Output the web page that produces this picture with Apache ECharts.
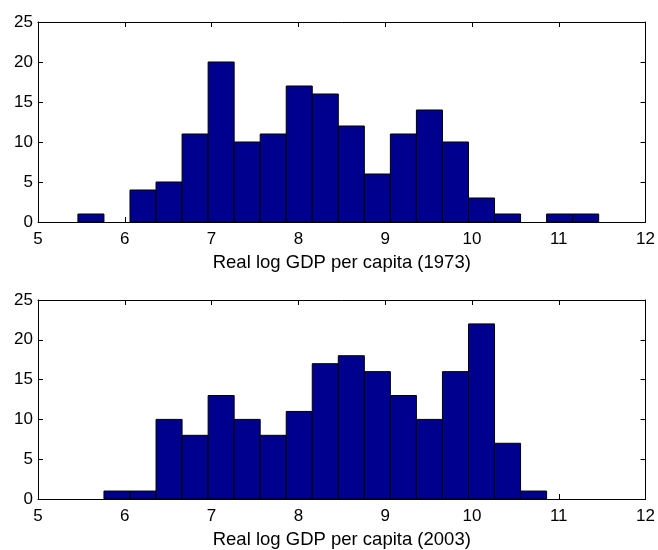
<!DOCTYPE html>
<html>
<head>
<meta charset="utf-8">
<script src="https://cdn.jsdelivr.net/npm/echarts@6/dist/echarts.min.js"></script>
<style>
  html, body { margin: 0; padding: 0; background: #fff; }
</style>
</head>
<body>
<div id="main" style="width: 658px; height: 550px;"></div>
<script type="text/javascript">
    // bin edges (20 bins, width ~0.3)
    var binEdges = [5.46, 5.76, 6.06, 6.36, 6.66, 6.96, 7.26, 7.56, 7.86, 8.16, 8.46,
                    8.76, 9.06, 9.36, 9.66, 9.96, 10.26, 10.56, 10.86, 11.16, 11.46];
    var counts1973 = [1, 0, 4, 5, 11, 20, 10, 11, 17, 16, 12, 6, 11, 14, 10, 3, 1, 0, 1, 1];
    var counts2003 = [0, 1, 1, 10, 8, 13, 10, 8, 11, 17, 18, 16, 13, 10, 16, 22, 7, 1, 0, 0];
    var xTicks = [5, 6, 7, 8, 9, 10, 11, 12];
    var yTicks = [0, 5, 10, 15, 20, 25];
    var xNames = ['Real log GDP per capita (1973)', 'Real log GDP per capita (2003)'];

    function toBins(counts) {
        var out = [];
        for (var i = 0; i < counts.length; i++) {
            out.push([binEdges[i], binEdges[i + 1], counts[i]]);
        }
        return out;
    }

    function renderBar(params, api) {
        if (!api.value(2)) return null; // empty bin, nothing to draw
        var p0 = api.coord([api.value(0), api.value(2)]);
        var p1 = api.coord([api.value(1), 0]);
        return {
            type: 'rect',
            shape: {x: p0[0], y: p0[1], width: p1[0] - p0[0], height: p1[1] - p0[1]},
            style: {fill: '#00008f', stroke: '#000', lineWidth: 1}
        };
    }

    var font = 'Liberation Sans, Arial, sans-serif';
    var lineStyle = {color: '#000', width: 1};

    function xAx(gi, bottom) {
        return {
            type: 'value', gridIndex: gi, position: bottom ? 'bottom' : 'top',
            min: xTicks[0], max: xTicks[xTicks.length - 1], interval: 1,
            axisLine: {show: true, onZero: false, lineStyle: lineStyle},
            axisTick: {show: true, inside: true, length: 5, lineStyle: lineStyle},
            axisLabel: {show: bottom, color: '#000', fontSize: 17, fontFamily: font, margin: 9},
            splitLine: {show: false},
            name: bottom ? xNames[gi] : '', nameLocation: 'middle', nameGap: 31,
            nameTextStyle: {color: '#000', fontSize: 18.5, fontFamily: font}
        };
    }
    function yAx(gi, left) {
        return {
            type: 'value', gridIndex: gi, position: left ? 'left' : 'right',
            min: yTicks[0], max: yTicks[yTicks.length - 1], interval: 5,
            axisLine: {show: true, onZero: false, lineStyle: lineStyle},
            axisTick: {show: true, inside: true, length: 5, lineStyle: lineStyle},
            axisLabel: {show: left, color: '#000', fontSize: 17, fontFamily: font, margin: 5},
            splitLine: {show: false}
        };
    }

    var myChart = echarts.init(document.getElementById('main'));
    var option = {
        animation: false,
        grid: [
            {left: 38, right: 12, top: 22, height: 200},
            {left: 38, right: 12, top: 300, height: 201}
        ],
        xAxis: [xAx(0, true), xAx(0, false), xAx(1, true), xAx(1, false)],
        yAxis: [yAx(0, true), yAx(0, false), yAx(1, true), yAx(1, false)],
        series: [
            {
                type: 'custom', xAxisIndex: 0, yAxisIndex: 0,
                renderItem: renderBar, encode: {x: [0, 1], y: 2},
                data: toBins(counts1973)
            },
            {
                type: 'custom', xAxisIndex: 2, yAxisIndex: 2,
                renderItem: renderBar, encode: {x: [0, 1], y: 2},
                data: toBins(counts2003)
            }
        ]
    };
    myChart.setOption(option);
</script>
</body>
</html>
